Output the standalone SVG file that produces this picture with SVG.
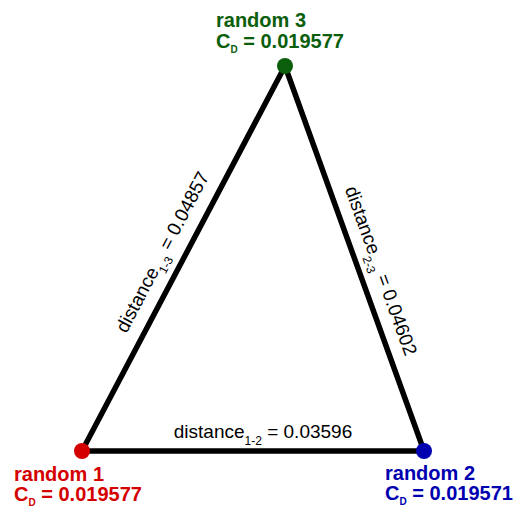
<svg xmlns="http://www.w3.org/2000/svg" width="517" height="508" viewBox="0 0 517 508">
<style>
.lbl{font-family:"Liberation Sans",Arial,sans-serif;font-weight:bold;font-size:20px}
.sub{font-size:10px}
.d{font-family:"Liberation Sans",Arial,sans-serif;font-size:19px;fill:#000}
.ds{font-size:12px}
.edge{stroke:#000;stroke-width:5.5;fill:none;stroke-linecap:round}
</style>
<rect width="517" height="508" fill="#fff"/>
<g id="connectors">
<line class="edge" x1="82" y1="451" x2="424" y2="451"/>
<line class="edge" x1="82" y1="451" x2="285" y2="66"/>
<line class="edge" x1="424" y1="451" x2="285" y2="66"/>
<text class="d" x="263" y="438" text-anchor="middle">distance<tspan class="ds" dy="7">1-2</tspan><tspan dy="-7"> = 0.03596</tspan></text>
<text class="d" transform="translate(168,255) rotate(-62.2)" text-anchor="middle">distance<tspan class="ds" dy="7">1-3</tspan><tspan dy="-7"> = 0.04857</tspan></text>
<text class="d" transform="translate(375,273) rotate(70.15)" text-anchor="middle">distance<tspan class="ds" dy="7">2-3</tspan><tspan dy="-7"> = 0.04602</tspan></text>
</g>
<g id="random1">
<circle cx="82" cy="451" r="8" fill="#d40000"/>
<text class="lbl" fill="#d40000" x="14" y="481">random 1</text>
<text class="lbl" fill="#d40000" x="14" y="501">C<tspan class="sub" dy="5">D</tspan><tspan dy="-5"> = 0.019577</tspan></text>
</g>
<g id="random2">
<circle cx="424" cy="451" r="8" fill="#0000b0"/>
<text class="lbl" fill="#0000b0" x="385" y="480">random 2</text>
<text class="lbl" fill="#0000b0" x="385" y="500">C<tspan class="sub" dy="5">D</tspan><tspan dy="-5"> = 0.019571</tspan></text>
</g>
<g id="random3">
<circle cx="285" cy="66" r="8" fill="#0b5e0b"/>
<text class="lbl" fill="#0b5e0b" x="216" y="27">random 3</text>
<text class="lbl" fill="#0b5e0b" x="216" y="48">C<tspan class="sub" dy="5">D</tspan><tspan dy="-5"> = 0.019577</tspan></text>
</g>
</svg>
